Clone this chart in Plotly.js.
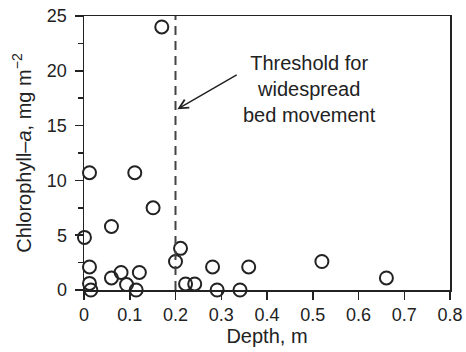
<!DOCTYPE html>
<html>
<head>
<meta charset="utf-8">
<script src="https://cdn.plot.ly/plotly-3.0.1.min.js"></script>
<style>html,body{margin:0;padding:0;background:#fff;}#chart{width:466px;height:352px;}</style>
</head>
<body>
<div id="chart"></div>
<script>
// Depth (m) and Chlorophyll-a (mg m^-2)
const depth = [0.012, 0.111, 0.151, 0.060, 0.001, 0.211, 0.200, 0.012, 0.060, 0.081,
               0.121, 0.093, 0.012, 0.015, 0.114, 0.222, 0.242, 0.281, 0.291, 0.341,
               0.360, 0.520, 0.661, 0.170];
const chla  = [10.7, 10.7, 7.5, 5.8, 4.8, 3.8, 2.6, 2.1, 1.1, 1.6,
               1.6, 0.5, 0.6, 0.0, 0.0, 0.55, 0.55, 2.1, 0.0, 0.0,
               2.1, 2.6, 1.1, 24.0];
const thresholdDepth = 0.2;
const annotationText = "Threshold for<br>widespread<br>bed movement";
const arrowTip = {x: 0.204, y: 16.5};
const arrowTail = {x: 0.337, y: 19.7};
const textPos = {x: 0.493, y: 18.3};
const xTicks = [0, 0.1, 0.2, 0.3, 0.4, 0.5, 0.6, 0.7, 0.8];
const yTicks = [0, 5, 10, 15, 20, 25];

const ink = '#222';
const font = 'Liberation Sans, Arial, sans-serif';

const trace = {
  x: depth, y: chla, type: 'scatter', mode: 'markers',
  marker: {symbol: 'circle-open', size: 13, color: ink, line: {width: 2, color: ink}},
  cliponaxis: false, hoverinfo: 'skip'
};

const axisCommon = {
  showgrid: false, zeroline: false, showline: true, mirror: true,
  linecolor: ink, linewidth: 1.5, ticks: 'outside', ticklen: 8, tickwidth: 1.5,
  tickcolor: ink, tickfont: {family: font, size: 18, color: ink}
};

const layout = {
  width: 466, height: 352,
  margin: {l: 84, r: 16, t: 16, b: 62},
  paper_bgcolor: '#fff', plot_bgcolor: '#fff',
  showlegend: false,
  font: {family: font, color: ink},
  xaxis: Object.assign({}, axisCommon, {
    range: [0, 0.8], tickvals: xTicks, ticktext: xTicks.map(String),
    title: {text: 'Depth, m', font: {family: font, size: 20, color: ink}, standoff: 2}
  }),
  yaxis: Object.assign({}, axisCommon, {
    range: [0, 25], tickvals: yTicks, ticktext: yTicks.map(String),
    ticklabelstandoff: 4,
    minor: {dtick: 2.5, ticks: 'outside', ticklen: 5, tickwidth: 1.5, tickcolor: ink, showgrid: false},
    title: {text: 'Chlorophyll–<i>a</i>, mg m<sup>−2</sup>', font: {family: font, size: 20, color: ink}, standoff: 10}
  }),
  shapes: [{
    type: 'line', xref: 'x', yref: 'y', x0: thresholdDepth, x1: thresholdDepth, y0: 0, y1: 25,
    line: {color: '#444', width: 2, dash: '9px,6px'}
  }],
  annotations: [
    {
      xref: 'x', yref: 'y', x: arrowTip.x, y: arrowTip.y, text: '',
      showarrow: true, axref: 'x', ayref: 'y', ax: arrowTail.x, ay: arrowTail.y,
      arrowhead: 5, arrowsize: 1.2, arrowwidth: 1.5, arrowcolor: ink, standoff: 0
    },
    {
      xref: 'x', yref: 'y', x: textPos.x, y: textPos.y, text: annotationText,
      showarrow: false, xanchor: 'center', yanchor: 'middle', align: 'center',
      font: {family: font, size: 20, color: ink}
    }
  ]
};

Plotly.newPlot('chart', [trace], layout, {staticPlot: true, displayModeBar: false});
</script>
</body>
</html>
